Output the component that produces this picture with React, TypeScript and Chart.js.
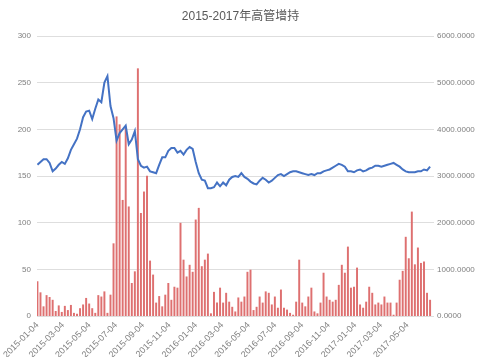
import React, { useEffect, useRef } from "react";
import { Chart, registerables } from "chart.js";

Chart.register(...registerables);

const chartTitle = "2015-2017年高管增持";

const categories = [
  "2015-01-04","2015-01-11","2015-01-18","2015-01-25","2015-02-01","2015-02-08","2015-02-15","2015-02-22",
  "2015-03-01","2015-03-08","2015-03-15","2015-03-22","2015-03-29","2015-04-05","2015-04-12","2015-04-19","2015-04-26",
  "2015-05-03","2015-05-10","2015-05-17","2015-05-24","2015-05-31","2015-06-07","2015-06-14","2015-06-21","2015-06-28",
  "2015-07-05","2015-07-12","2015-07-19","2015-07-26","2015-08-02","2015-08-09","2015-08-16","2015-08-23","2015-08-30",
  "2015-09-06","2015-09-13","2015-09-20","2015-09-27","2015-10-04","2015-10-11","2015-10-18","2015-10-25",
  "2015-11-01","2015-11-08","2015-11-15","2015-11-22","2015-11-29","2015-12-06","2015-12-13","2015-12-20","2015-12-27",
  "2016-01-03","2016-01-10","2016-01-17","2016-01-24","2016-01-31","2016-02-07","2016-02-14","2016-02-21","2016-02-28",
  "2016-03-06","2016-03-13","2016-03-20","2016-03-27","2016-04-03","2016-04-10","2016-04-17","2016-04-24",
  "2016-05-01","2016-05-08","2016-05-15","2016-05-22","2016-05-29","2016-06-05","2016-06-12","2016-06-19","2016-06-26",
  "2016-07-03","2016-07-10","2016-07-17","2016-07-24","2016-07-31","2016-08-07","2016-08-14","2016-08-21","2016-08-28",
  "2016-09-04","2016-09-11","2016-09-18","2016-09-25","2016-10-02","2016-10-09","2016-10-16","2016-10-23","2016-10-30",
  "2016-11-06","2016-11-13","2016-11-20","2016-11-27","2016-12-04","2016-12-11","2016-12-18","2016-12-25",
  "2017-01-01","2017-01-08","2017-01-15","2017-01-22","2017-01-29","2017-02-05","2017-02-12","2017-02-19","2017-02-26",
  "2017-03-05","2017-03-12","2017-03-19","2017-03-26","2017-04-02","2017-04-09","2017-04-16","2017-04-23","2017-04-30",
  "2017-05-07","2017-05-14","2017-05-21","2017-05-28","2017-06-04","2017-06-11","2017-06-18","2017-06-25"
];

// blue line, left axis (0-300)
const indexValues = [
  162,165,168,168,164,155,158,162,165,163,
  169,178,184,190,200,213,219,220,211,222,
  232,229,250,257,225,212,188,196,200,204,
  184,189,198,168,161,159,160,155,154,153,
  162,170,170,177,180,180,175,177,173,178,
  181,179,165,153,146,145,137,137,138,143,
  139,143,140,146,149,150,149,153,149,147,
  144,142,141,145,148,146,143,145,148,151,
  152,150,152,154,155,155,154,153,152,151,
  152,151,153,153,155,156,157,159,161,163,
  162,160,155,155,154,156,157,155,156,158,
  159,161,161,160,161,162,163,164,162,160,
  157,155,154,154,154,155,155,157,156,160
];

// red bars, right axis (0-6000)
const holdingValues = [
  740,500,200,440,400,340,100,220,80,210,
  120,230,60,40,160,240,380,260,160,60,
  440,410,520,60,450,1550,4270,4100,2480,4050,
  2340,700,950,5300,2200,2660,3000,1180,880,280,
  420,200,450,700,340,620,600,1990,1200,840,
  1090,940,2060,2310,1060,1200,1330,50,510,280,
  600,280,490,300,190,90,390,300,410,940,
  985,120,190,410,280,520,490,240,410,170,
  560,170,130,60,20,300,1200,280,200,410,
  600,90,50,280,920,410,340,300,340,660,
  1090,920,1480,600,620,1030,240,170,300,620,
  490,240,280,240,410,280,280,20,280,770,
  960,1690,1230,2230,1100,1460,1130,1160,490,340
];

const tickLabels = [
  "2015-01-04","2015-03-04","2015-05-04","2015-07-04","2015-09-04","2015-11-04",
  "2016-01-04","2016-03-04","2016-05-04","2016-07-04","2016-09-04","2016-11-04",
  "2017-01-04","2017-03-04","2017-05-04"
];

const toDay = (s: string) => {
  const [y, m, d] = s.split("-").map(Number);
  const [y0, m0, d0] = categories[0].split("-").map(Number);
  return Math.round((Date.UTC(y, m - 1, d) - Date.UTC(y0, m0 - 1, d0)) / 86400000);
};

export default function App() {
  const ref = useRef<HTMLCanvasElement | null>(null);
  useEffect(() => {
    if (!ref.current) return;
    const fontFamily = '"Liberation Sans", "Noto Sans CJK SC", sans-serif';
    const tickDays = tickLabels.map(toDay);
    const labelByDay = new Map<number, string>();
    tickLabels.forEach((t, i) => labelByDay.set(tickDays[i], t));
    const days = categories.map(toDay);

    const chart = new Chart(ref.current, {
      type: "bar",
      data: {
        datasets: [
          {
            type: "line",
            label: "index",
            data: days.map((x, i) => ({ x, y: indexValues[i] })),
            borderColor: "#4472C4",
            backgroundColor: "#4472C4",
            borderWidth: 2,
            pointRadius: 0,
            tension: 0,
            yAxisID: "y",
            order: 0,
          } as any,
          {
            type: "bar",
            label: "holding",
            data: days.map((x, i) => ({ x, y: holdingValues[i] })),
            backgroundColor: "rgb(222, 112, 112)",
            barThickness: 1.3,
            yAxisID: "y1",
            order: 1,
          } as any,
        ],
      },
      options: {
        responsive: false,
        animation: false,
        layout: { padding: 0 },
        plugins: {
          legend: { display: false },
          tooltip: { enabled: false },
          title: {
            display: true,
            text: chartTitle,
            color: "#595959",
            font: { size: 12, family: fontFamily, weight: "normal" as any },
            padding: { top: 9.5, bottom: 12.1 },
          },
        },
        scales: {
          x: {
            type: "linear",
            offset: false,
            min: -1,
            max: 912,
            grid: { display: false, drawTicks: false, offset: false },
            border: { display: false },
            afterBuildTicks: (scale: any) => {
              scale.ticks = tickDays.map((value) => ({ value }));
            },
            afterFit: (scale: any) => {
              scale.height = 41;
            },
            ticks: {
              autoSkip: false,
              maxRotation: 45,
              minRotation: 45,
              padding: 4,
              color: "#7f7f7f",
              font: { size: 9, family: fontFamily },
              callback: (v: any) => labelByDay.get(Number(v)) ?? "",
            },
          },
          y: {
            position: "left",
            min: 0,
            max: 300,
            grid: { color: "#dedede", lineWidth: 1, drawTicks: false },
            border: { display: false },
            afterFit: (scale: any) => {
              scale.width = 37;
            },
            ticks: {
              stepSize: 50,
              padding: 6,
              color: "#7f7f7f",
              font: { size: 8, family: fontFamily },
            },
          },
          y1: {
            position: "right",
            min: 0,
            max: 6000,
            grid: { display: false, drawTicks: false },
            border: { display: false },
            afterFit: (scale: any) => {
              scale.width = 47;
            },
            ticks: {
              stepSize: 1000,
              padding: 3,
              color: "#7f7f7f",
              font: { size: 8, family: fontFamily },
              callback: (v: any) => Number(v).toFixed(4),
            },
          },
        },
      } as any,
    });
    return () => chart.destroy();
  }, []);

  return (
    <div style={{ position: "fixed", left: 0, top: 0, width: 481, height: 357, background: "#fff" }}>
      <canvas ref={ref} width={481} height={357} style={{ display: "block" }} />
    </div>
  );
}
